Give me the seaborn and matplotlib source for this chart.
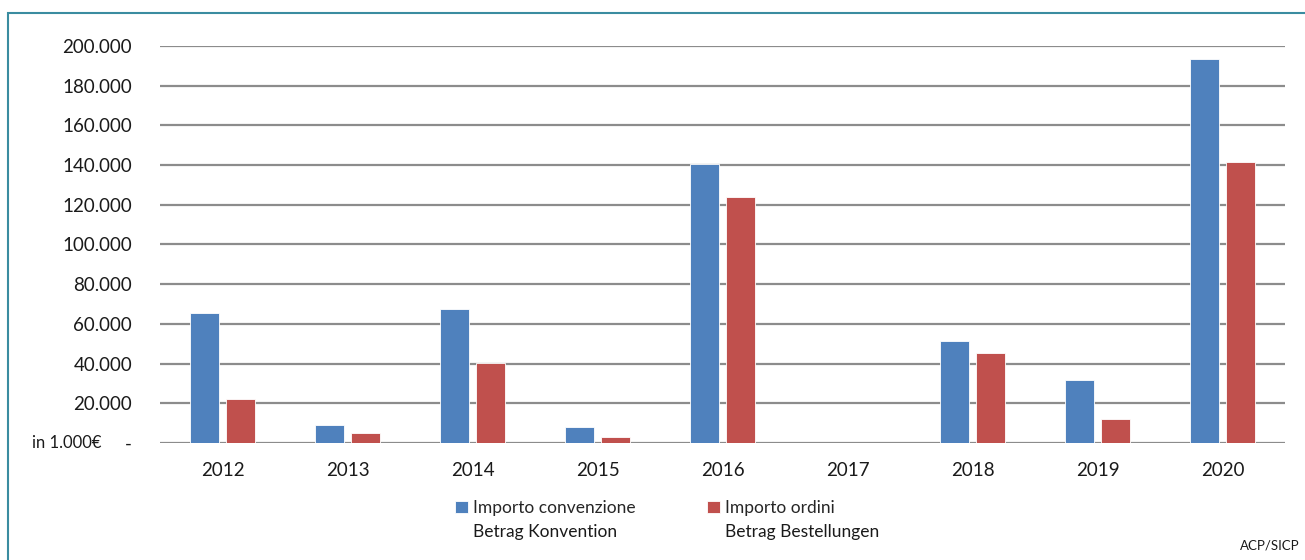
import numpy as np
import pandas as pd
import matplotlib
matplotlib.use("Agg")
import matplotlib.pyplot as plt
import seaborn as sns
from matplotlib.patches import Rectangle
from matplotlib.ticker import FuncFormatter

years = ["2012", "2013", "2014", "2015", "2016", "2017", "2018", "2019", "2020"]
importo_convenzione = [65500, 9100, 67500, 8000, 140700, 0, 51400, 31700, 193500]
importo_ordini = [22200, 5000, 40300, 3000, 124000, 0, 45300, 12100, 141500]
series_it = ["Importo convenzione", "Importo ordini"]
series_de = ["Betrag Konvention", "Betrag Bestellungen"]
colors = ["#4F81BD", "#C0504D"]

df = pd.DataFrame({
    "year": years * 2,
    "value": importo_convenzione + importo_ordini,
    "series": [series_it[0]] * len(years) + [series_it[1]] * len(years),
})

sns.set_style("white")
plt.rcParams["font.family"] = ["Lato", "DejaVu Sans"]
text_color = "#1a1a1a"

fig = plt.figure(figsize=(13.05, 5.6), dpi=100)
ax = fig.add_axes([160 / 1305, 1 - 443 / 560, 1125 / 1305, 397 / 560])

sns.barplot(data=df, x="year", y="value", hue="series", palette=colors,
            width=0.576, gap=0.22, ax=ax, edgecolor="white", linewidth=0.6,
            saturation=1, legend=True)

ax.set_ylim(0, 200000)
ax.set_xlim(-0.5, len(years) - 0.5)
ax.set_yticks(np.arange(0, 200001, 20000))
ax.yaxis.set_major_formatter(FuncFormatter(
    lambda v, p: "-" if v == 0 else f"{int(v):,}".replace(",", ".")))
ax.grid(axis="y", color="#8C8C8C", linewidth=1.6)
ax.set_axisbelow(True)
for s in ax.spines.values():
    s.set_visible(False)
ax.tick_params(axis="both", length=0, labelsize=13.5, colors=text_color)
ax.tick_params(axis="y", pad=20)
ax.tick_params(axis="x", pad=14)
ax.set_xlabel("")
ax.set_ylabel("")

fig.text(32 / 1305, 1 - 443 / 560, "in 1.000€", fontsize=12, va="center", ha="left", color=text_color)

handles, labels = ax.get_legend_handles_labels()
leg = ax.legend(handles, labels, loc="upper left", bbox_to_anchor=(455 / 1305, 1 - 500 / 560),
                bbox_transform=fig.transFigure, ncol=2, frameon=False, fontsize=12.5,
                handlelength=0.75, handleheight=0.75, handletextpad=0.3, columnspacing=4.1,
                borderpad=0, borderaxespad=0)

# second line of each legend label, placed under the first line
fig.canvas.draw()
inv = fig.transFigure.inverted()
for txt, de in zip(leg.get_texts(), series_de):
    bb = txt.get_window_extent()
    x0, y0 = inv.transform((bb.x0, bb.y0))
    fig.text(x0, y0 - 8 / 560, de, fontsize=12.5, ha="left", va="top", color=text_color)

fig.text(1300 / 1305, 1 - 545 / 560, "ACP/SICP", fontsize=9.5, ha="right", va="center", color=text_color)

fig.patches.append(Rectangle((8 / 1305, -0.1), 1.2, 0.1 + 1 - 13 / 560, transform=fig.transFigure,
                             fill=False, edgecolor="#3A8CA0", linewidth=1.5))

fig.savefig("out.png", dpi=100)
